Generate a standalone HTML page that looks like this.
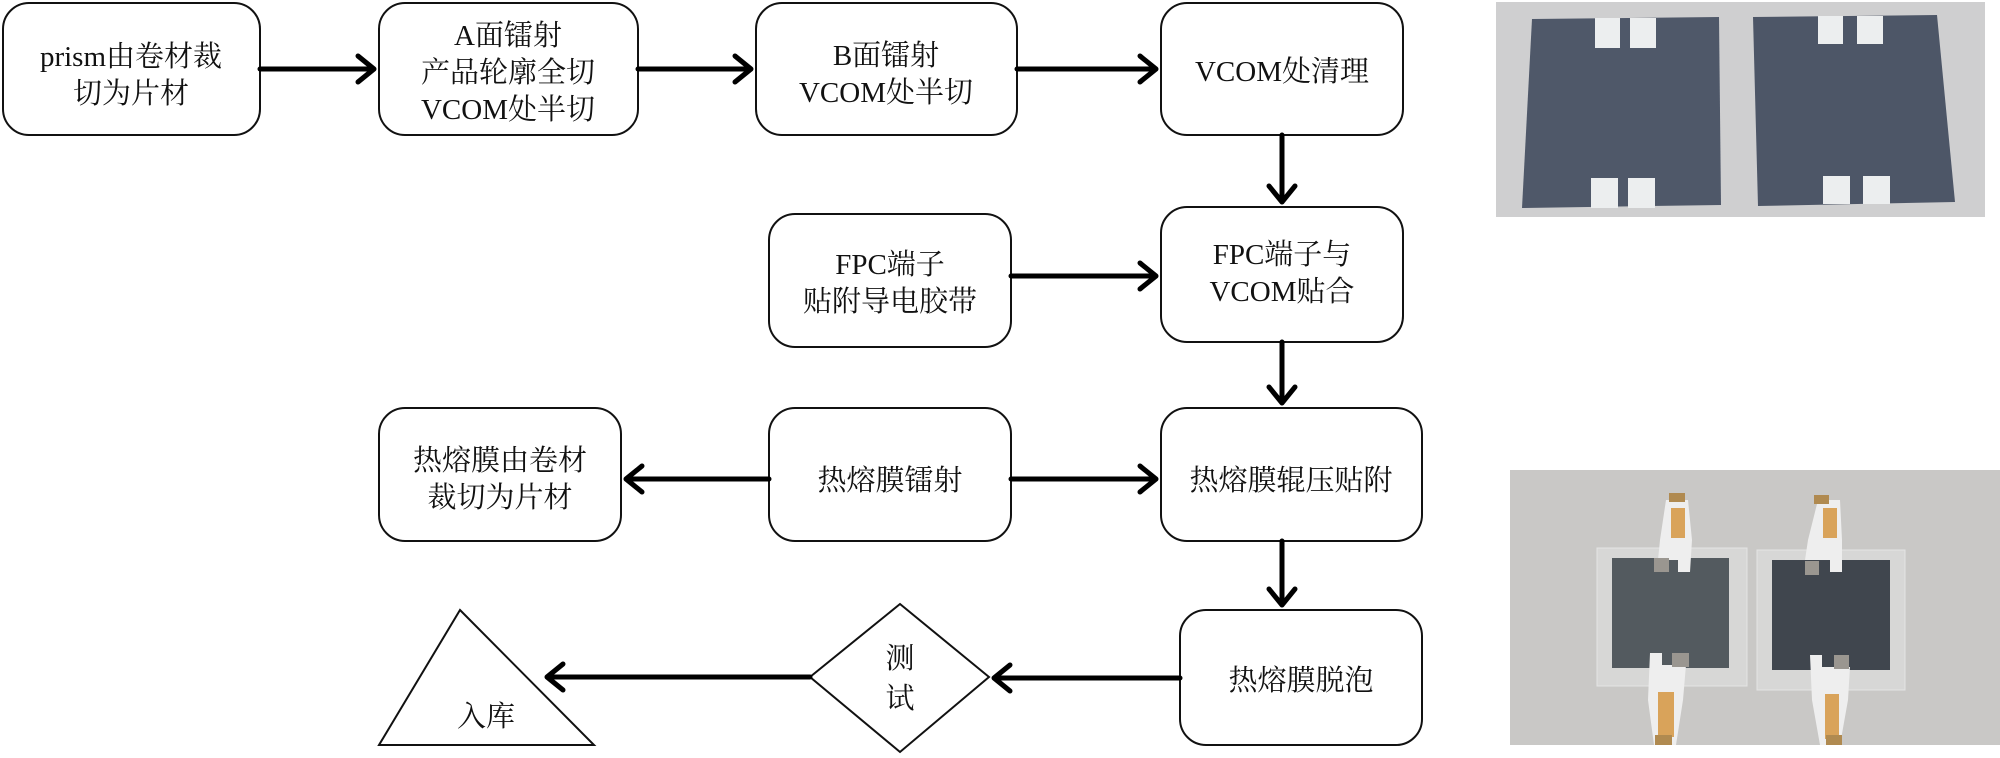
<!DOCTYPE html>
<html><head><meta charset="utf-8"><style>
html,body{margin:0;padding:0;background:#fff;}
svg{display:block}
text{font-family:"Liberation Serif","Noto Serif CJK SC","Noto Sans CJK SC",serif;font-size:29px;fill:#111;text-anchor:middle;}
</style></head><body>
<svg width="2000" height="758" viewBox="0 0 2000 758" xmlns="http://www.w3.org/2000/svg">
<g fill="#fff" stroke="#111" stroke-width="2">
<rect x="3" y="3" width="257" height="132" rx="26"/>
<rect x="379" y="3" width="259" height="132" rx="26"/>
<rect x="756" y="3" width="261" height="132" rx="26"/>
<rect x="1161" y="3" width="242" height="132" rx="26"/>
<rect x="769" y="214" width="242" height="133" rx="26"/>
<rect x="1161" y="207" width="242" height="135" rx="26"/>
<rect x="379" y="408" width="242" height="133" rx="26"/>
<rect x="769" y="408" width="242" height="133" rx="26"/>
<rect x="1161" y="408" width="261" height="133" rx="26"/>
<rect x="1180" y="610" width="242" height="135" rx="26"/>
<polygon points="900,604 989,677 900,752 810,677"/>
<polygon points="460,610 594,745 379,745"/>
</g>
<g stroke="#000" stroke-width="5" fill="none" stroke-linecap="round" stroke-linejoin="round">
<line x1="260" y1="69" x2="373" y2="69"/><polyline points="358,56 374,69 358,82"/>
<line x1="638" y1="69" x2="750" y2="69"/><polyline points="735,56 751,69 735,82"/>
<line x1="1017" y1="69" x2="1155" y2="69"/><polyline points="1140,56 1156,69 1140,82"/>
<line x1="1282" y1="135" x2="1282" y2="201"/><polyline points="1269,186 1282,202 1295,186"/>
<line x1="1011" y1="276" x2="1155" y2="276"/><polyline points="1140,263 1156,276 1140,289"/>
<line x1="1282" y1="342" x2="1282" y2="402"/><polyline points="1269,387 1282,403 1295,387"/>
<line x1="769" y1="479" x2="627" y2="479"/><polyline points="642,466 626,479 642,492"/>
<line x1="1011" y1="479" x2="1155" y2="479"/><polyline points="1140,466 1156,479 1140,492"/>
<line x1="1282" y1="541" x2="1282" y2="604"/><polyline points="1269,589 1282,605 1295,589"/>
<line x1="1180" y1="678" x2="995" y2="678"/><polyline points="1010,665 994,678 1010,691"/>
<line x1="810" y1="677" x2="548" y2="677"/><polyline points="563,664 547,677 563,690"/>
</g>
<text x="131" y="66">prism由卷材裁</text><text x="131" y="103">切为片材</text>
<text x="508" y="45">A面镭射</text><text x="508" y="82">产品轮廓全切</text><text x="508" y="119">VCOM处半切</text>
<text x="886" y="65">B面镭射</text><text x="886" y="102">VCOM处半切</text>
<text x="1282" y="81">VCOM处清理</text>
<text x="890" y="274">FPC端子</text><text x="890" y="311">贴附导电胶带</text>
<text x="1282" y="264">FPC端子与</text><text x="1282" y="301">VCOM贴合</text>
<text x="500" y="470">热熔膜由卷材</text><text x="500" y="507">裁切为片材</text>
<text x="890" y="490">热熔膜镭射</text>
<text x="1291" y="490">热熔膜辊压贴附</text>
<text x="1301" y="690">热熔膜脱泡</text>
<text x="900" y="668">测</text><text x="900" y="708">试</text>
<text x="486" y="726">入库</text>
<!-- photo 1 -->
<rect x="1496" y="2" width="489" height="215" fill="#cfcfd0"/>
<polygon points="1532,19 1719,17 1721,205 1522,208" fill="#4f5869"/>
<polygon points="1753,17 1937,15 1955,202 1758,206" fill="#4d5667"/>
<g fill="#eceeef">
<rect x="1595" y="18" width="25" height="30"/><rect x="1630" y="18" width="26" height="30"/>
<rect x="1591" y="178" width="27" height="30"/><rect x="1628" y="178" width="27" height="30"/>
<rect x="1818" y="16" width="25" height="28"/><rect x="1857" y="16" width="26" height="28"/>
<rect x="1823" y="176" width="27" height="28"/><rect x="1863" y="176" width="27" height="28"/>
</g>
<!-- photo 2 -->
<rect x="1510" y="470" width="490" height="275" fill="#c9c8c6"/>
<rect x="1597" y="548" width="150" height="138" fill="#d7d7d6" stroke="#e4e4e4"/>
<rect x="1757" y="550" width="148" height="140" fill="#d7d7d6" stroke="#e4e4e4"/>
<rect x="1612" y="558" width="117" height="110" fill="#535a5f"/>
<rect x="1772" y="560" width="118" height="110" fill="#40464e"/>
<g fill="#eeeeee">
<polygon points="1666,500 1688,500 1692,540 1690,572 1678,572 1678,560 1658,560 1660,540"/>
<polygon points="1818,500 1840,500 1842,540 1842,572 1830,572 1830,560 1805,560 1808,540"/>
<polygon points="1650,653 1662,653 1662,665 1686,665 1683,700 1676,745 1654,745 1648,700"/>
<polygon points="1810,655 1822,655 1822,667 1850,667 1848,700 1840,745 1820,745 1812,700"/>
</g>
<g fill="#d9a35a">
<rect x="1671" y="508" width="14" height="30"/><rect x="1823" y="508" width="14" height="30"/>
<rect x="1658" y="692" width="16" height="45"/><rect x="1825" y="694" width="14" height="45"/>
</g>
<g fill="#b08a50"><rect x="1669" y="493" width="16" height="9"/><rect x="1814" y="495" width="15" height="9"/>
<rect x="1655" y="735" width="17" height="10"/><rect x="1826" y="735" width="16" height="10"/></g>
<g fill="#9a9690"><rect x="1654" y="558" width="15" height="14"/><rect x="1805" y="561" width="14" height="14"/>
<rect x="1672" y="653" width="17" height="14"/><rect x="1834" y="655" width="15" height="14"/></g>
</svg>
</body></html>
